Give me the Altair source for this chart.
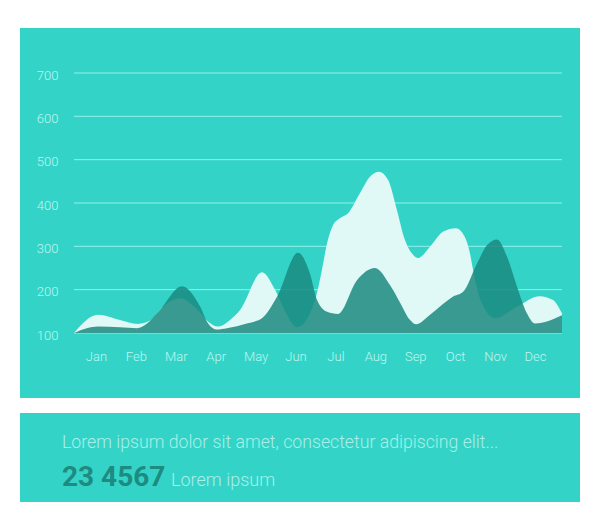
import altair as alt
import pandas as pd

# ---------------- data ----------------
months = ["Jan", "Feb", "Mar", "Apr", "May", "Jun",
          "Jul", "Aug", "Sep", "Oct", "Nov", "Dec"]
y_ticks = [100, 200, 300, 400, 500, 600, 700]

# light (white) series: position in month units, value
light_x = [-0.551, 0.05, 0.60, 1.05, 1.35, 1.65, 2.10, 2.56, 2.81, 3.06, 3.36, 3.61,
           4.16, 4.49, 4.74, 5.04, 5.49, 5.66, 5.79, 5.94, 6.11, 6.31, 6.61, 6.87,
           7.09, 7.32, 7.54, 7.74, 7.95, 8.07, 8.37, 8.70, 9.02, 9.24, 9.37, 9.45,
           9.62, 10.00, 10.55, 11.12, 11.45, 11.677]
light_v = [100, 142, 130, 121, 128, 158, 180, 152, 126, 115, 130, 153,
           240, 199, 150, 113, 176, 245, 307, 349, 365, 376, 422, 461,
           472, 453, 384, 315, 280, 273, 299, 334, 342, 322, 284, 245,
           180, 134, 161, 185, 176, 145]

# dark series
dark_x = [-0.551, -0.23, 0.05, 0.60, 1.03, 1.28, 1.60, 2.15, 2.61, 2.81, 3.03, 3.28,
          3.78, 4.16, 4.54, 5.06, 5.36, 5.54, 5.79, 6.06, 6.54, 6.99, 7.37, 7.62,
          7.87, 8.02, 8.37, 8.62, 8.95, 9.20, 9.55, 9.80, 10.05, 10.30, 10.55, 10.80,
          11.00, 11.677]
dark_v = [100, 111, 115, 113, 111, 122, 153, 208, 161, 122, 108, 111,
          122, 134, 184, 285, 238, 176, 149, 144, 222, 250, 210, 170,
          130, 120, 142, 161, 184, 195, 261, 303, 316, 276, 207, 145,
          122, 141]

headline = "Lorem ipsum dolor sit amet, consectetur adipiscing elit..."
big_number = "23 4567"
caption = "Lorem ipsum"

# ---------------- styles ----------------
TEAL = "#33d4c7"
LIGHT = "#e0f8f6"
DARK = "#1b8a7f"
GRID = "#92f0e9"
LABEL = "#bff6f1"
TEXT_LIGHT = "#a9efe8"
TEXT_DARK = "#1e8a80"
FONT = "Roboto"

light_df = pd.DataFrame({"m": light_x, "v": light_v})
dark_df = pd.DataFrame({"m": dark_x, "v": dark_v})
grid_df = pd.DataFrame({"v": y_ticks})
one = pd.DataFrame({"k": [0]})

xscale = alt.Scale(domain=[-0.551, 11.677], nice=False, zero=False)
yscale = alt.Scale(domain=[100, 700], nice=False, zero=False)

label_expr = "[" + ",".join("'%s'" % m for m in months) + "][datum.value]"
x_axis = alt.Axis(values=list(range(len(months))), labelExpr=label_expr, title=None,
                  domain=False, ticks=False, tickSize=0, grid=False,
                  labelPadding=17, labelFont=FONT, labelFontSize=13,
                  labelFontWeight=300, labelColor=LABEL, labelFlush=False,
                  labelOverlap=False, zindex=1)
y_axis = alt.Axis(values=y_ticks, title=None, domain=False, ticks=False, tickSize=0,
                  grid=False, labelPadding=16, labelFont=FONT, labelFontSize=13,
                  labelFontWeight=300, labelColor=LABEL, labelOffset=2, zindex=1)

panel_top = alt.Chart(one).mark_rect(color=TEAL).encode(
    x=alt.value(-54), x2=alt.value(506), y=alt.value(-45), y2=alt.value(325))
panel_bottom = alt.Chart(one).mark_rect(color=TEAL).encode(
    x=alt.value(-54), x2=alt.value(506), y=alt.value(340), y2=alt.value(429))

grid = alt.Chart(grid_df).mark_rule(color=GRID, strokeWidth=1).encode(
    y=alt.Y("v:Q", scale=yscale, axis=y_axis),
    x=alt.value(0), x2=alt.value(488))

light = alt.Chart(light_df).mark_area(interpolate="monotone", color=LIGHT).encode(
    x=alt.X("m:Q", scale=xscale, axis=x_axis),
    y=alt.Y("v:Q", scale=yscale, axis=y_axis),
    y2=alt.datum(100))

dark = alt.Chart(dark_df).mark_area(interpolate="monotone", color=DARK, opacity=0.85).encode(
    x=alt.X("m:Q", scale=xscale, axis=x_axis),
    y=alt.Y("v:Q", scale=yscale, axis=y_axis),
    y2=alt.datum(100))

t1 = alt.Chart(pd.DataFrame({"t": [headline]})).mark_text(
    align="left", baseline="alphabetic", font=FONT, fontSize=17.7, fontWeight=300,
    color=TEXT_LIGHT).encode(text="t:N", x=alt.value(-12), y=alt.value(375))
t2 = alt.Chart(pd.DataFrame({"t": [big_number]})).mark_text(
    align="left", baseline="alphabetic", font=FONT, fontSize=28, fontWeight="bold",
    color=TEXT_DARK).encode(text="t:N", x=alt.value(-12), y=alt.value(412.5))
t3 = alt.Chart(pd.DataFrame({"t": [caption]})).mark_text(
    align="left", baseline="alphabetic", font=FONT, fontSize=18, fontWeight=300,
    color=TEXT_LIGHT).encode(text="t:N", x=alt.value(97), y=alt.value(412.5))

chart = alt.layer(panel_top, panel_bottom, grid, light, dark, t1, t2, t3).properties(
    width=488, height=260,
    padding={"left": 74, "top": 73, "right": 38, "bottom": 198},
    autosize="none", background="white",
).configure_view(stroke=None)

chart.save("out.html", embed_options={"renderer": "svg", "actions": False})
